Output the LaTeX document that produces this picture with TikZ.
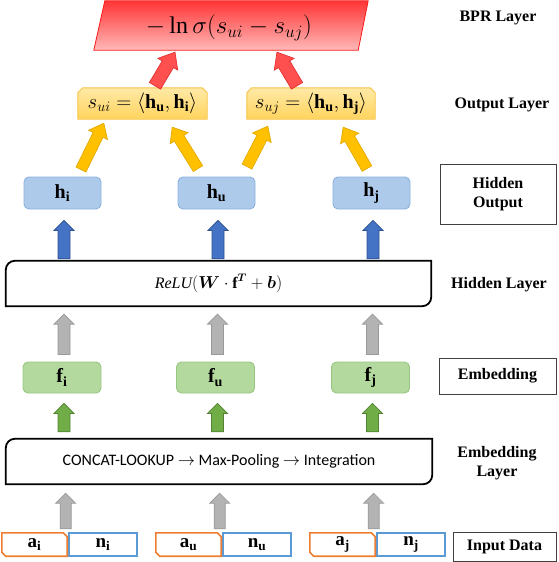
\documentclass[tikz,border=0pt]{standalone}
\usepackage{amsmath}
\usepackage{bm}
\usepackage{fontspec}
\setmainfont{Liberation Serif}
\newfontfamily\calibrifont{Carlito}
\usetikzlibrary{calc}

\definecolor{bprtop}{HTML}{FF3535}
\definecolor{bprbot}{HTML}{FFB8B8}
\definecolor{bprline}{HTML}{FF1A1A}
\definecolor{redarr}{HTML}{FF5050}
\definecolor{redarrd}{HTML}{E53030}
\definecolor{yeltop}{HTML}{FFE9A6}
\definecolor{yelbot}{HTML}{FFD45E}
\definecolor{yelline}{HTML}{F6C445}
\definecolor{yelarr}{HTML}{FFC000}
\definecolor{yelarrd}{HTML}{E3AA00}
\definecolor{hfill}{HTML}{AECAEA}
\definecolor{hline}{HTML}{8AB1E0}
\definecolor{bluearr}{HTML}{4472C4}
\definecolor{bluearrd}{HTML}{2F528F}
\definecolor{grayarr}{HTML}{B3B3B3}
\definecolor{grayarrd}{HTML}{999999}
\definecolor{ffill}{HTML}{B4D99F}
\definecolor{fline}{HTML}{97C680}
\definecolor{greenarr}{HTML}{70AD47}
\definecolor{greenarrd}{HTML}{548235}
\definecolor{aline}{HTML}{ED7D31}
\definecolor{nline}{HTML}{5B9BD5}

% #1 style, #2 tail coordinate, #3 tip coordinate, #4 shaft half width, #5 head half width, #6 head length
\newcommand{\myblockarrow}[6]{%
  \coordinate (bah) at ($(#3)!#6!(#2)$);
  \filldraw[#1] ($(#2)!#4!90:(#3)$) -- ($(bah)!#4!90:(#3)$) -- ($(bah)!#5!90:(#3)$) -- (#3)
    -- ($(bah)!#5!-90:(#3)$) -- ($(bah)!#4!-90:(#3)$) -- ($(#2)!#4!-90:(#3)$) -- cycle;}

\begin{document}
\begin{tikzpicture}[x=1pt,y=-1pt,
  lbl/.style={font=\fontsize{16}{19}\selectfont\bfseries, align=center, inner sep=0pt},
  lblbox/.style={lbl, draw=black!75, line width=1pt},
  frame/.style={rectangle, inner sep=0pt},
  outframe/.style={frame, minimum width=129pt, minimum height=31pt},
  outline/.style={top color=yeltop, bottom color=yelbot, draw=yelline, line width=0.9pt},
  mathbig/.style={font=\fontsize{20}{24}\selectfont, inner sep=0pt},
  hbox/.style={rectangle, rounded corners=5pt, fill=hfill, draw=hline, line width=0.9pt,
    minimum width=77pt, minimum height=32pt, inner sep=0pt, font=\fontsize{20}{24}\selectfont},
  fbox/.style={rectangle, rounded corners=5pt, fill=ffill, draw=fline, line width=0.9pt,
    minimum width=78pt, minimum height=31pt, inner sep=0pt, font=\fontsize{20}{24}\selectfont},
  abox/.style={frame, minimum width=65pt, minimum height=23pt, font=\fontsize{19}{22}\selectfont},
  aline/.style={draw=aline, line width=1.6pt},
  nbox/.style={rectangle, draw=nline, line width=1.6pt, fill=white, minimum width=68pt,
    minimum height=23pt, inner sep=0pt, font=\fontsize{19}{22}\selectfont},
  bigline/.style={line width=1.8pt, draw=black},
  redstyle/.style={fill=redarr, draw=redarrd, line width=0.7pt},
  yelstyle/.style={fill=yelarr, draw=yelarrd, line width=0.7pt},
  bluestyle/.style={fill=bluearr, draw=bluearrd, line width=0.7pt},
  graystyle/.style={fill=grayarr, draw=grayarrd, line width=0.7pt},
  greenstyle/.style={fill=greenarr, draw=greenarrd, line width=0.7pt}
]
\useasboundingbox (0,0) rectangle (558,562);

% ---------- BPR layer ----------
\node[frame, minimum width=274pt, minimum height=49pt] (bpr) at (231,25.5) {};
\shadedraw[top color=bprtop, bottom color=bprbot, draw=bprline, line width=0.8pt]
  ($(bpr.north west)+(11,0)$) -- (bpr.north east) -- ($(bpr.south east)+(-10,0)$) -- (bpr.south west) -- cycle;
\node[font=\fontsize{24}{28}\selectfont, inner sep=0pt] (bprtext) at (229,28) {$-\ln\sigma(s_{ui}-s_{uj})$};

% ---------- output layer ----------
\node[outframe] (sui) at (142.5,103.5) {};
\node[outframe, minimum width=128pt] (suj) at (311,103.5) {};
\foreach \s in {sui,suj}{
  \shadedraw[outline] (\s.south west) -- ([yshift=-5pt]\s.north west) -- ([xshift=5pt]\s.north west)
    -- ([xshift=-5pt]\s.north east) -- ([yshift=-5pt]\s.north east) -- (\s.south east) -- cycle;
}
\node[mathbig] (suitext) at (sui) {$s_{ui}=\langle\mathbf{h}_{\mathbf{u}},\mathbf{h}_{\mathbf{i}}\rangle$};
\node[mathbig] (sujtext) at (suj) {$s_{uj}=\langle\mathbf{h}_{\mathbf{u}},\mathbf{h}_{\mathbf{j}}\rangle$};

% ---------- hidden output ----------
\node[hbox] (hi) at (62.5,193) {$\mathbf{h}_{\mathbf{i}}$};
\node[hbox] (hu) at (216.5,193) {$\mathbf{h}_{\mathbf{u}}$};
\node[hbox] (hj) at (371.5,193) {$\mathbf{h}_{\mathbf{j}}$};

% ---------- hidden layer ----------
\node[frame, minimum width=425pt, minimum height=45pt, font=\fontsize{16}{19}\selectfont] (hl) at (218.5,283.5)
  {$\mathit{ReLU}(\bm{W}\cdot\mathbf{f}^{\bm{T}}+\bm{b})$};
\draw[bigline] (hl.south west) -- ([yshift=-9pt]hl.north west) to[out=90,in=180] ([xshift=9pt]hl.north west)
  -- (hl.north east) -- ([yshift=9pt]hl.south east) to[out=-90,in=0] ([xshift=-9pt]hl.south east) -- cycle;

% ---------- embedding ----------
\node[fbox] (fi) at (62,377.5) {$\mathbf{f}_{\mathbf{i}}$};
\node[fbox] (fu) at (215.5,377.5) {$\mathbf{f}_{\mathbf{u}}$};
\node[fbox] (fj) at (370.5,377.5) {$\mathbf{f}_{\mathbf{j}}$};

% ---------- embedding layer ----------
\node[frame, minimum width=426pt, minimum height=45pt, font=\fontsize{16}{19}\selectfont\calibrifont] (el) at (219,461.5)
  {CONCAT-LOOKUP $\rightarrow$ Max-Pooling $\rightarrow$ Integration};
\draw[bigline] (el.south west) -- ([yshift=-9pt]el.north west) to[out=90,in=180] ([xshift=9pt]el.north west)
  -- (el.north east) -- ([yshift=9pt]el.south east) to[out=-90,in=0] ([xshift=-9pt]el.south east) -- cycle;

% ---------- input data ----------
\node[abox] (ai) at (34.5,544.5) {$\mathbf{a}_{\mathbf{i}}$};
\node[nbox] (ni) at (103,544.5) {$\mathbf{n}_{\mathbf{i}}$};
\node[abox] (au) at (188.5,544.5) {$\mathbf{a}_{\mathbf{u}}$};
\node[nbox] (nu) at (257,544.5) {$\mathbf{n}_{\mathbf{u}}$};
\node[abox] (aj) at (342.5,544.5) {$\mathbf{a}_{\mathbf{j}}$};
\node[nbox] (nj) at (411,544.5) {$\mathbf{n}_{\mathbf{j}}$};
\foreach \s in {ai,au,aj}{
  \draw[aline] ([yshift=4pt]\s.south west) -- (\s.north west) -- ([xshift=-4pt]\s.north east)
    -- ([yshift=-4pt]\s.north east) -- (\s.south east) -- ([xshift=4pt]\s.south west) -- cycle;
}

% ---------- right-hand labels ----------
\node[lbl] (lbpr) at (498,18) {BPR Layer};
\node[lbl] (lout) at (502,105) {Output Layer};
\node[lblbox, minimum width=116pt, minimum height=60pt] (lhout) at (498,194) {Hidden\\Output};
\node[lbl] (lhl) at (499,285) {Hidden Layer};
\node[lblbox, minimum width=117pt, minimum height=36pt] (lemb) at (497.5,376) {Embedding};
\node[lbl] (lel) at (497,463) {Embedding\\Layer};
\node[lblbox, minimum width=103pt, minimum height=29pt] (lin) at (504.5,546.5) {Input Data};

% ---------- red arrows ----------
\coordinate (r1s) at ($(sui.north)+(12.5,-2)$);
\coordinate (r1e) at ($(bpr.south)+(-56,2)$);
\coordinate (r2s) at ($(suj.north)+(-14,-2)$);
\coordinate (r2e) at ($(bpr.south)+(46,2)$);
\myblockarrow{redstyle}{r1s}{r1e}{6.5pt}{11.5pt}{14pt}
\myblockarrow{redstyle}{r2s}{r2e}{6.5pt}{11.5pt}{14pt}

% ---------- yellow arrows ----------
\coordinate (y1s) at ($(hi.north)+(18.5,-7)$);
\coordinate (y1e) at ($(sui.south west)+(26,4)$);
\coordinate (y2s) at ($(hu.north)+(-18.5,-8)$);
\coordinate (y2e) at ($(sui.south east)+(-35,8)$);
\coordinate (y3s) at ($(hu.north)+(30.5,-10)$);
\coordinate (y3e) at ($(suj.south west)+(21,7)$);
\coordinate (y4s) at ($(hj.north)+(-4.5,-8)$);
\coordinate (y4e) at ($(suj.south east)+(-32,8)$);
\myblockarrow{yelstyle}{y1s}{y1e}{5.5pt}{10.5pt}{13pt}
\myblockarrow{yelstyle}{y2s}{y2e}{5.5pt}{10.5pt}{13pt}
\myblockarrow{yelstyle}{y3s}{y3e}{5.5pt}{10.5pt}{13pt}
\myblockarrow{yelstyle}{y4s}{y4e}{5.5pt}{10.5pt}{13pt}

% ---------- blue arrows ----------
\foreach \n in {i,u,j}{
  \coordinate (b\n s) at ($(hl.north -| h\n)+(1.5,-2)$);
  \coordinate (b\n e) at ($(h\n.south)+(1.5,11)$);
  \myblockarrow{bluestyle}{b\n s}{b\n e}{6pt}{10pt}{10pt}
}

% ---------- gray arrows (upper) ----------
\foreach \n in {i,u,j}{
  \coordinate (g\n s) at ($(f\n.north)+(2,-7)$);
  \coordinate (g\n e) at ($(hl.south -| f\n)+(2,8)$);
  \myblockarrow{graystyle}{g\n s}{g\n e}{6pt}{10pt}{10pt}
}

% ---------- green arrows ----------
\foreach \n in {i,u,j}{
  \coordinate (e\n s) at ($(el.north -| f\n)+(2,-7)$);
  \coordinate (e\n e) at ($(f\n.south)+(2,10)$);
  \myblockarrow{greenstyle}{e\n s}{e\n e}{6pt}{10pt}{10pt}
}

% ---------- gray arrows (lower) ----------
\foreach \n in {i,u,j}{
  \coordinate (m\n) at ($(a\n.east)!0.5!(n\n.west)$);
  \coordinate (l\n s) at ($(m\n |- a\n.north)+(-2,-4)$);
  \coordinate (l\n e) at ($(el.south -| m\n)+(-2,9)$);
  \myblockarrow{graystyle}{l\n s}{l\n e}{5.5pt}{10pt}{10pt}
}
\end{tikzpicture}
\end{document}
